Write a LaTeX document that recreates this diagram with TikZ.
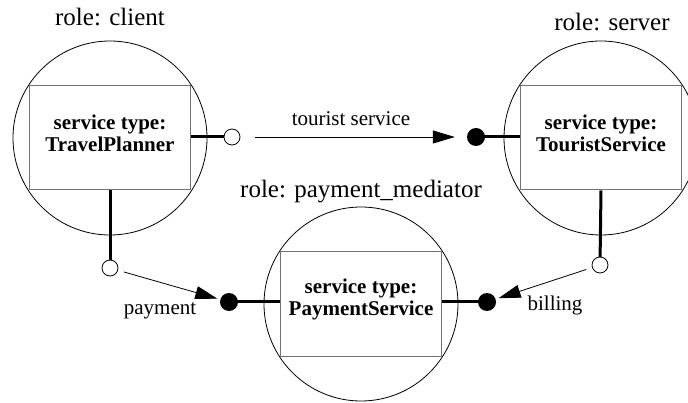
\documentclass[tikz,border=0pt]{standalone}
\usepackage{fontspec}
\setmainfont{Liberation Serif}
\usetikzlibrary{arrows.meta}

\begin{document}
\begin{tikzpicture}[x=1pt, y=-1pt, line join=round, >={Triangle[length=22pt,width=13pt]},
	role/.style={circle, draw, line width=0.8pt, minimum size=194pt, inner sep=0pt},
	svcbox/.style={rectangle, draw=black!55, line width=1pt, minimum width=161pt, minimum height=104pt, inner sep=0pt},
	svctext/.style={align=center, font=\fontsize{21}{22}\selectfont\bfseries},
	rolelbl/.style={anchor=base, font=\fontsize{25}{28}\selectfont},
	lbl/.style={anchor=base, font=\fontsize{21}{24}\selectfont},
	openport/.style={circle, draw, fill=white, line width=0.8pt, minimum size=16pt, inner sep=0pt},
	fullport/.style={circle, fill, minimum size=18pt, inner sep=0pt},
	link/.style={line width=3pt},
	flow/.style={->, line width=0.8pt}]
	\useasboundingbox (0,0) rectangle (688,403);
	
	% roles and their services
	\node[role] (client) at (110,138) {};
	\node[svcbox] (clientbox) at (110,138) {};
	\node[svctext] (clienttxt) at (110,133) {service type:\\TravelPlanner};
	\node[rolelbl] (clientlbl) at (110,26) {role: client};
	
	\node[role] (server) at (601,138) {};
	\node[svcbox] (serverbox) at (601,138) {};
	\node[svctext] (servertxt) at (601,133) {service type:\\TouristService};
	\node[rolelbl] (serverlbl) at (612,31) {role: server};
	
	\node[role] (mediator) at (361,304) {};
	\node[svcbox] (paybox) at (361,304) {};
	\node[svctext] (paytxt) at (361,299) {service type:\\PaymentService};
	\node[rolelbl] (mediatorlbl) at (361,198) {role: payment\_mediator};
	
	% ports
	\coordinate (clientoutpos) at (232,137);
	\coordinate (clientpaypos) at (110,268);
	\coordinate (serverinpos) at (476,137);
	\coordinate (serverbillpos) at (600,265);
	\coordinate (payinpos) at (229,302);
	\coordinate (billinpos) at (487,302);
	
	\draw[link] (clientbox.east |- clientoutpos) -- (clientoutpos);
	\draw[link] (clientbox.south) -- (clientpaypos);
	\draw[link] (serverbox.west |- serverinpos) -- (serverinpos);
	\draw[link] (serverbox.south) -- (serverbillpos);
	\draw[link] (paybox.west |- payinpos) -- (payinpos);
	\draw[link] (paybox.east |- billinpos) -- (billinpos);
	
	\node[openport] (clientout) at (clientoutpos) {};
	\node[openport] (clientpay) at (clientpaypos) {};
	\node[fullport] (serverin) at (serverinpos) {};
	\node[openport] (serverbill) at (serverbillpos) {};
	\node[fullport] (payin) at (payinpos) {};
	\node[fullport] (billin) at (billinpos) {};
	
	% connections
	\draw[flow, shorten <=15pt, shorten >=12pt] (clientout) -- (serverin);
	\draw[flow, shorten <=6pt, shorten >=3pt] (clientpay) -- (payin);
	\draw[flow, shorten <=6pt, shorten >=3pt] (serverbill) -- (billin);
	
	\node[lbl] (tourlbl) at (351,126) {tourist service};
	\node[lbl] (paylbl) at (160,315) {payment};
	\node[lbl] (billlbl) at (555,311) {billing};
\end{tikzpicture}
\end{document}
